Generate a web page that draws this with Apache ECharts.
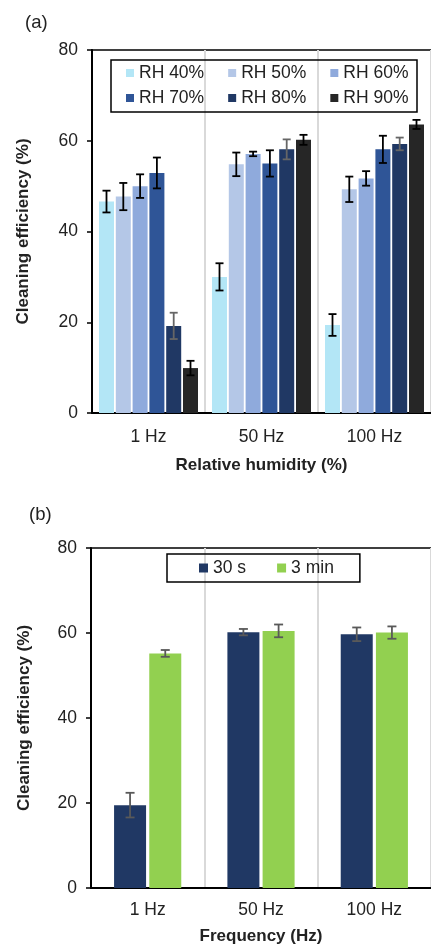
<!DOCTYPE html>
<html>
<head>
<meta charset="utf-8">
<script src="https://cdn.jsdelivr.net/npm/echarts@6/dist/echarts.min.js"></script>
<style>
  html, body { margin: 0; padding: 0; background: #fff; }
  #chart { width: 431px; height: 947px; }
</style>
</head>
<body>
<div id="chart"></div>
<script>
// categories
var categories = ['1 Hz', '50 Hz', '100 Hz'];

// (a) humidity series, means and errors
var rh40 = [46.6, 30.0, 19.4];
var rh40Err = [2.4, 3.0, 2.4];
var rh50 = [47.7, 54.8, 49.3];
var rh50Err = [3.0, 2.6, 2.8];
var rh60 = [50.0, 57.1, 51.7];
var rh60Err = [2.6, 0.5, 1.6];
var rh70 = [52.9, 55.0, 58.1];
var rh70Err = [3.4, 2.9, 3.0];
var rh80 = [19.2, 58.1, 59.3];
var rh80Err = [2.9, 2.2, 1.4];
var rh90 = [9.9, 60.2, 63.6];
var rh90Err = [1.6, 1.1, 1.0];

// (b) duration series
var t30s = [19.5, 60.2, 59.7];
var t30sErr = [2.9, 0.75, 1.6];
var t3min = [55.2, 60.5, 60.1];
var t3minErr = [0.8, 1.5, 1.45];

var yTicks = [0, 20, 40, 60, 80];

var FONT = 'Liberation Sans, Arial, sans-serif';
var TXT = '#222';

var chart = echarts.init(document.getElementById('chart'));

// bar geometry used also to place the error bars
var aBarW = 15, aGap = 1.8;
var bBarW = 32, bGap = 3.2;

function barSeries(name, data, color, xi, w, gapPct) {
    return {
        type: 'bar', name: name, data: data,
        xAxisIndex: xi, yAxisIndex: xi,
        barWidth: w, barGap: gapPct,
        itemStyle: { color: color },
        silent: true
    };
}

function errSeries(vals, errs, xi, offset, color, capW) {
    return {
        type: 'custom', name: 'err', xAxisIndex: xi, yAxisIndex: xi, z: 10,
        silent: true,
        data: vals.map(function (v, i) { return [i, v, errs[i]]; }),
        renderItem: function (params, api) {
            var i = api.value(0), v = api.value(1), e = api.value(2);
            var hi = api.coord([i, v + e]);
            var lo = api.coord([i, v - e]);
            var cx = hi[0] + offset;
            var st = { stroke: color, lineWidth: 1.8 };
            return {
                type: 'group',
                children: [
                    { type: 'line', shape: { x1: cx, y1: hi[1], x2: cx, y2: lo[1] }, style: st },
                    { type: 'line', shape: { x1: cx - capW / 2, y1: hi[1], x2: cx + capW / 2, y2: hi[1] }, style: st },
                    { type: 'line', shape: { x1: cx - capW / 2, y1: lo[1], x2: cx + capW / 2, y2: lo[1] }, style: st }
                ]
            };
        }
    };
}

function xAx(gi, name, margin, nameGap) {
    return {
        type: 'category', gridIndex: gi, data: categories,
        name: name, nameLocation: 'middle', nameGap: nameGap,
        nameTextStyle: { fontFamily: FONT, fontSize: 17, fontWeight: 'bold', color: TXT },
        axisLine: { show: true, lineStyle: { color: '#000', width: 2 } },
        axisTick: { show: false },
        axisLabel: { fontFamily: FONT, fontSize: 17.5, color: TXT, margin: margin },
        splitLine: { show: true, lineStyle: { color: '#d9d9d9', width: 2 } }
    };
}

function yAx(gi, nameGap) {
    return {
        type: 'value', gridIndex: gi, min: yTicks[0], max: yTicks[yTicks.length - 1], interval: 20,
        name: 'Cleaning efficiency (%)', nameLocation: 'middle', nameGap: nameGap,
        nameTextStyle: { fontFamily: FONT, fontSize: 17, fontWeight: 'bold', color: TXT },
        axisLine: { show: true, lineStyle: { color: '#000', width: 2 } },
        axisTick: { show: true, length: 5, lineStyle: { color: '#000', width: 1.5 } },
        axisLabel: { fontFamily: FONT, fontSize: 17.5, color: TXT, margin: 14 },
        splitLine: { show: false }
    };
}

var aColors = ['#b3e6f6', '#b4c7e7', '#8faadc', '#2f5597', '#203864', '#262626'];
var aNames = ['RH 40%', 'RH 50%', 'RH 60%', 'RH 70%', 'RH 80%', 'RH 90%'];
var aVals = [rh40, rh50, rh60, rh70, rh80, rh90];
var aErrs = [rh40Err, rh50Err, rh60Err, rh70Err, rh80Err, rh90Err];
var aErrColors = ['#000', '#000', '#000', '#000', '#666', '#000'];

var series = [];
for (var k = 0; k < 6; k++) {
    series.push(barSeries(aNames[k], aVals[k], aColors[k], 0, aBarW, '12%'));
}
for (var k = 0; k < 6; k++) {
    series.push(errSeries(aVals[k], aErrs[k], 0, (k - 2.5) * (aBarW + aGap), aErrColors[k], 8));
}
series.push(barSeries('30 s', t30s, '#203864', 1, bBarW, '10%'));
series.push(barSeries('3 min', t3min, '#92d050', 1, bBarW, '10%'));
series.push(errSeries(t30s, t30sErr, 1, -0.5 * (bBarW + bGap), '#595959', 9));
series.push(errSeries(t3min, t3minErr, 1, 0.5 * (bBarW + bGap), '#595959', 9));

var legText = { fontFamily: FONT, fontSize: 17.5, color: TXT };

chart.setOption({
    animation: false,
    backgroundColor: '#fff',
    title: [
        { text: '(a)', left: 20, top: 8, textStyle: { fontFamily: FONT, fontSize: 18.5, fontWeight: 'normal', color: TXT } },
        { text: '(b)', left: 24, top: 500, textStyle: { fontFamily: FONT, fontSize: 18.5, fontWeight: 'normal', color: TXT } }
    ],
    grid: [
        { left: 92, top: 50, right: -4, height: 363, show: true, borderColor: '#000', borderWidth: 1.5 },
        { left: 91, top: 548, right: -4, height: 340, show: true, borderColor: '#000', borderWidth: 1.5 }
    ],
    xAxis: [xAx(0, 'Relative humidity (%)', 15, 44), xAx(1, 'Frequency (Hz)', 13, 40)],
    yAxis: [yAx(0, 60), yAx(1, 58)],
    legend: [
        {
            data: aNames.slice(0, 3), left: 126, top: 64, padding: 0,
            icon: 'rect', itemWidth: 8, itemHeight: 8, itemGap: 24, textStyle: legText,
            selectedMode: false
        },
        {
            data: aNames.slice(3, 6), left: 126, top: 89, padding: 0,
            icon: 'rect', itemWidth: 8, itemHeight: 8, itemGap: 24, textStyle: legText,
            selectedMode: false
        },
        {
            data: ['30 s', '3 min'], left: 167, top: 554, padding: [5, 26, 5, 32],
            borderColor: '#000', borderWidth: 1.5,
            icon: 'rect', itemWidth: 9, itemHeight: 9, itemGap: 31, textStyle: legText,
            selectedMode: false
        }
    ],
    graphic: [
        { type: 'rect', shape: { x: 111, y: 60, width: 306, height: 52 }, style: { fill: 'none', stroke: '#000', lineWidth: 1.5 }, z: 100 }
    ],
    series: series
});
</script>
</body>
</html>
